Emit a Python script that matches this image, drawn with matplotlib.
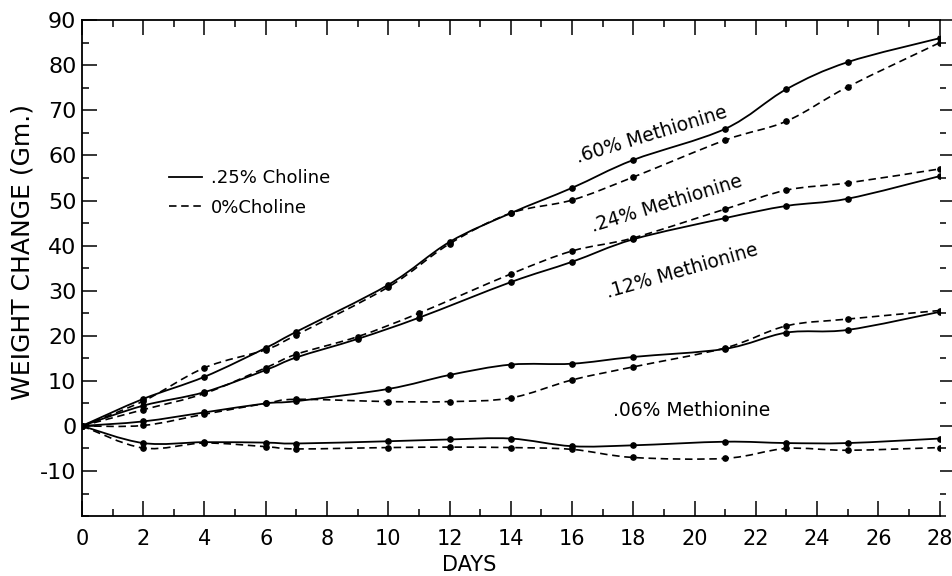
#!/usr/bin/env python3
import numpy as np
import matplotlib
matplotlib.use("Agg")
import matplotlib.pyplot as plt
from matplotlib.path import Path
from matplotlib.patches import PathPatch
from matplotlib.lines import Line2D
from matplotlib.ticker import MultipleLocator

plt.rcParams["axes.unicode_minus"] = False

# weighing days for each methionine level
days_60 = [0, 2, 4, 6, 7, 10, 12, 14, 16, 18, 21, 23, 25, 28]
days_24 = [0, 2, 4, 6, 7, 9, 11, 14, 16, 18, 21, 23, 25, 28]
days_12 = [0, 2, 4, 6, 7, 10, 12, 14, 16, 18, 21, 23, 25, 28]
days_06 = [0, 2, 4, 6, 7, 10, 12, 14, 16, 18, 21, 23, 25, 28]

# weight change (Gm.), .25% choline (solid) and 0% choline (dashed)
met60_chol = [0, 6.0, 10.9, 17.3, 20.9, 31.3, 40.8, 47.2, 52.8, 59.0, 65.9, 74.7, 80.7, 86.0]
met60_nochol = [0, 5.5, 12.9, 16.9, 20.2, 30.8, 40.4, 47.2, 50.1, 55.2, 63.4, 67.6, 75.2, 85.0]
met24_chol = [0, 4.5, 7.5, 12.4, 15.2, 19.3, 24.0, 31.9, 36.4, 41.4, 46.1, 48.8, 50.4, 55.4]
met24_nochol = [0, 3.6, 7.2, 12.9, 15.9, 19.8, 25.0, 33.7, 38.8, 41.7, 48.1, 52.3, 53.9, 57.0]
met12_chol = [0, 1.0, 3.0, 5.0, 5.5, 8.2, 11.3, 13.6, 13.8, 15.3, 17.1, 20.7, 21.3, 25.3]
met12_nochol = [0, 0.1, 2.6, 5.0, 5.9, 5.4, 5.4, 6.2, 10.2, 13.1, 17.3, 22.2, 23.7, 25.6]
met06_chol = [0, -3.8, -3.6, -3.7, -3.9, -3.4, -3.0, -2.8, -4.5, -4.3, -3.5, -3.8, -3.8, -2.8]
met06_nochol = [0, -4.9, -3.8, -4.6, -5.1, -4.8, -4.7, -4.8, -5.2, -7.0, -7.2, -5.0, -5.4, -4.8]

groups = [
    (".60% Methionine", days_60, met60_chol, met60_nochol, (18.6, 64.5), 17),
    (".24% Methionine", days_24, met24_chol, met24_nochol, (19.1, 49.3), 17),
    (".12% Methionine", days_12, met12_chol, met12_nochol, (19.6, 34.4), 16),
    (".06% Methionine", days_06, met06_chol, met06_nochol, (19.9, 3.5), 0),
]

DASH = (0, (4.5, 2.8))


def smooth_path(x, y):
    # Catmull-Rom curve through the points, expressed as cubic Bezier segments
    p = np.column_stack([x, y]).astype(float)
    verts = [p[0]]
    codes = [Path.MOVETO]
    n = len(p)
    for i in range(n - 1):
        p0 = p[i - 1] if i > 0 else p[i]
        p3 = p[i + 2] if i + 2 < n else p[i + 1]
        c1 = p[i] + (p[i + 1] - p0) / 6.0
        c2 = p[i + 1] - (p3 - p[i]) / 6.0
        verts += [c1, c2, p[i + 1]]
        codes += [Path.CURVE4] * 3
    return Path(verts, codes)


fig = plt.figure(figsize=(9.53, 5.76), dpi=100)
ax = fig.add_axes([0.086, 0.104, 0.900, 0.861])

for label, days, chol, nochol, pos, rot in groups:
    ax.add_patch(PathPatch(smooth_path(days, chol), fill=False, lw=1.3, color="black"))
    ax.add_patch(PathPatch(smooth_path(days, nochol), fill=False, lw=1.2,
                           color="black", linestyle=DASH))
    ax.plot(days, chol, "o", ms=3.8, color="black")
    ax.plot(days, nochol, "o", ms=3.8, color="black")
    ax.text(pos[0], pos[1], label, fontsize=13.5, rotation=rot, ha="center", va="center",
            rotation_mode="anchor")

ax.set_xlim(0, 28)
ax.set_ylim(-20, 90)
ax.xaxis.set_major_locator(MultipleLocator(2))
ax.xaxis.set_minor_locator(MultipleLocator(1))
ax.set_yticks(range(-10, 91, 10))
ax.set_yticks(range(-20, 91, 5), minor=True)

ax.tick_params(which="both", direction="in", top=True, right=False, width=1.1, color="black")
ax.tick_params(which="major", length=11)
ax.tick_params(which="minor", length=5)
ax.tick_params(axis="x", labelsize=15, pad=9)
ax.tick_params(axis="y", labelsize=16, pad=4)

# right side: ticks point outward, no spine
axr = ax.twinx()
axr.set_ylim(ax.get_ylim())
axr.set_yticks(range(-10, 91, 10))
axr.set_yticks(range(-20, 91, 5), minor=True)
axr.tick_params(which="both", direction="out", labelright=False, width=1.1)
axr.tick_params(which="major", length=11)
axr.tick_params(which="minor", length=4)
for s in ["right", "left", "top", "bottom"]:
    axr.spines[s].set_visible(False)
ax.spines["right"].set_visible(False)
for s in ["left", "top", "bottom"]:
    ax.spines[s].set_linewidth(1.3)

ax.set_xlabel("DAYS", fontsize=15, va="center")
ax.xaxis.set_label_coords(0.452, -0.099)
ax.set_ylabel("WEIGHT CHANGE (Gm.)", fontsize=18, va="center")
ax.yaxis.set_label_coords(-0.069, 0.532)

handles = [Line2D([], [], color="black", lw=1.3),
           Line2D([], [], color="black", lw=1.2, linestyle=DASH)]
ax.legend(handles, [".25% Choline", "0%Choline"], loc="upper left",
          bbox_to_anchor=(0.102, 0.700), frameon=False, fontsize=13,
          handlelength=1.8, handletextpad=0.5, labelspacing=0.65,
          borderpad=0, borderaxespad=0)

fig.savefig("out.png", dpi=100)
